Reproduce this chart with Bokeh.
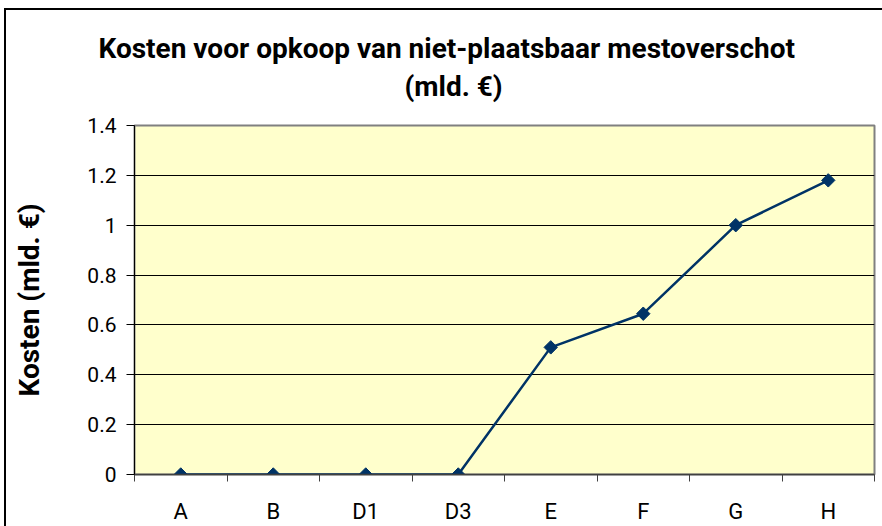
import math
from bokeh.plotting import figure
from bokeh.models import FixedTicker, ColumnDataSource, Title
from bokeh.embed import file_html
from bokeh.resources import INLINE

categories = ["A", "B", "D1", "D3", "E", "F", "G", "H"]
kosten = [0, 0, 0, 0, 0.51, 0.645, 1.0, 1.18]
y_ticks = [0, 0.2, 0.4, 0.6, 0.8, 1.0, 1.2, 1.4]
y_tick_labels = ["0", "0.2", "0.4", "0.6", "0.8", "1", "1.2", "1.4"]
title_line1 = "Kosten voor opkoop van niet-plaatsbaar mestoverschot"
title_line2 = "(mld. €)"
y_label = "Kosten (mld. €)"

FONT = "Roboto"

xpos = [i + 0.5 for i in range(len(categories))]
src = ColumnDataSource(dict(x=xpos, y=kosten, cat=categories))

p = figure(width=876, height=516, output_backend="svg", toolbar_location=None,
           x_range=(0, len(categories)), y_range=(0, 1.4),
           min_border_left=128, min_border_right=8, min_border_top=115, min_border_bottom=50)
p.styles = {"margin-left": "6px", "margin-top": "10px", "outline": "2px solid black"}

p.background_fill_color = "#FFFFCC"
p.border_fill_color = "white"
p.outline_line_color = "#808080"
p.outline_line_width = 2

# two-line title; the second line is nearest to the plot
t2 = Title(text=title_line2, align="left", offset=270, vertical_align="bottom", standoff=45,
           text_font=FONT, text_font_size="28px", text_font_style="bold", text_color="black")
t1 = Title(text=title_line1, align="left", offset=-36, vertical_align="bottom", standoff=-39,
           text_font=FONT, text_font_size="28px", text_font_style="bold", text_color="black")
p.add_layout(t2, "above")
p.add_layout(t1, "above")

# x axis: labels at category centres, tick marks between categories
p.xaxis.ticker = FixedTicker(ticks=xpos, minor_ticks=list(range(len(categories) + 1)))
p.xaxis.major_label_overrides = {x: c for x, c in zip(xpos, categories)}
p.xaxis.major_tick_out = 0
p.xaxis.major_tick_in = 0
p.xaxis.minor_tick_out = 7
p.xaxis.minor_tick_in = 0
p.xaxis.minor_tick_line_color = "#404040"
p.xaxis.axis_line_color = "#404040"
p.xaxis.axis_line_width = 1.5
p.xaxis.major_label_standoff = 17
p.xaxis.major_label_text_font = FONT
p.xaxis.major_label_text_font_size = "22px"
p.xaxis.major_label_text_color = "black"

# y axis
p.yaxis.ticker = FixedTicker(ticks=y_ticks)
p.yaxis.major_label_overrides = {t: l for t, l in zip(y_ticks, y_tick_labels)}
p.yaxis.minor_tick_line_color = None
p.yaxis.major_tick_out = 8
p.yaxis.major_tick_in = 0
p.yaxis.major_tick_line_color = "black"
p.yaxis.axis_line_color = "black"
p.yaxis.major_label_standoff = 10
p.yaxis.major_label_text_font = FONT
p.yaxis.major_label_text_font_size = "21px"
p.yaxis.major_label_text_color = "black"
p.yaxis.axis_label = y_label
p.yaxis.axis_label_text_font = FONT
p.yaxis.axis_label_text_font_size = "28px"
p.yaxis.axis_label_text_font_style = "bold"
p.yaxis.axis_label_text_color = "black"
p.yaxis.axis_label_standoff = 38

p.xgrid.grid_line_color = None
p.ygrid.ticker = FixedTicker(ticks=y_ticks)
p.ygrid.grid_line_color = "black"
p.ygrid.grid_line_width = 1

p.line("x", "y", source=src, line_color="#003366", line_width=2.5)
p.scatter("x", "y", source=src, marker="square", angle=math.pi / 4, size=9.5,
          fill_color="#003366", line_color="#003366")

open("out.html", "w").write(file_html(p, INLINE))
